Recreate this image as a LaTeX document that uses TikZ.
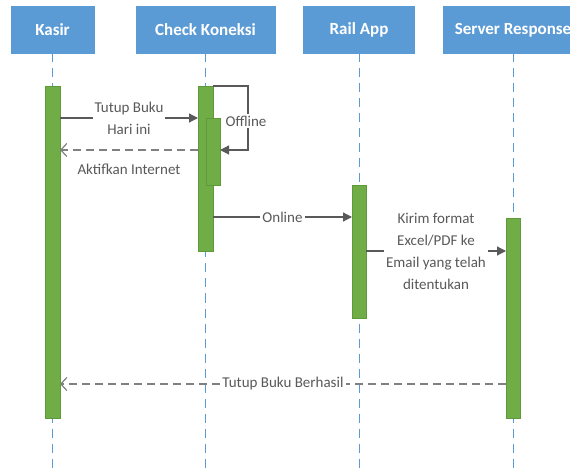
\documentclass[tikz,border=0pt]{standalone}
\usepackage{fontspec}
\setmainfont{Carlito}
\newcommand*{\headfont}{\fontsize{17}{20}\selectfont\bfseries}
\newcommand*{\msgfont}{\fontsize{15}{22}\selectfont}
\definecolor{head}{HTML}{5B9BD5}
\definecolor{act}{HTML}{70AD47}
\definecolor{actedge}{HTML}{5E9A3A}
\definecolor{darkgrey}{HTML}{595959}
\definecolor{midgrey}{HTML}{808080}
\usetikzlibrary{arrows.meta}
\usetikzlibrary{positioning}
\tikzstyle{base}=[x=1pt, y=-1pt, inner sep=0pt, outer sep=0pt]
\tikzstyle{actor}=[fill=head, draw=head, text=white, minimum height=47pt, font=\headfont]
\tikzstyle{lifeline}=[head, line width=1pt, dash pattern=on 9pt off 6pt]
\tikzstyle{bar}=[fill=act, draw=actedge, line width=0.5pt, minimum width=15pt]
\tikzstyle{call}=[darkgrey, line width=1.2pt, -{Triangle[length=9pt,width=9pt]}]
\tikzstyle{reply}=[midgrey, line width=1.2pt, dash pattern=on 8pt off 5pt, -{Straight Barb[length=6pt,width=13pt]}]
\tikzstyle{msg}=[fill=white, text=darkgrey, inner sep=2pt, align=center, font=\msgfont]

\begin{document}
\begin{tikzpicture}[base]
    \useasboundingbox (0,0) rectangle (570,470);
    \clip (0,0) rectangle (570,470);
        \node [actor, minimum width=83pt] (kasir) at (52.5,30) {Kasir};
        \node [actor, minimum width=139pt] (check) at (205.5,30) {Check Koneksi};
        \node [actor, minimum width=111pt] (rail) at (359,30) {Rail App};
        \node [actor, minimum width=140pt] (server) at (513,30) {Server Response};
        \foreach \n in {kasir,check,rail,server}
            \draw [lifeline] (\n.south) -- (\n.south |- 0,470);
        \node [bar, minimum height=332pt] (kasirbar) at (52.5,252) {};
        \node [bar, minimum height=165pt] (checkbar) at (205.5,168.5) {};
        \node [bar, minimum width=14pt, minimum height=67pt] (offbar) at (213,151.5) {};
        \node [bar, minimum width=14pt, minimum height=133pt] (railbar) at (359,251.5) {};
        \node [bar, minimum width=14pt, minimum height=200pt] (serverbar) at (513,318) {};
        \coordinate (tutup) at (0,118);
        \coordinate (aktif) at (0,150);
        \coordinate (online) at (0,217);
        \coordinate (kirim) at (0,251);
        \coordinate (berhasil) at (0,384);
        \draw [call] (kasirbar.east |- tutup) -- (checkbar.west |- tutup)
            node [msg, midway] {Tutup Buku\\Hari ini};
        \draw [call] (checkbar.north east) -- ++(35,0) |- (offbar.east |- aktif);
        \node [msg] (offline) at (246,121) {Offline};
        \draw [reply] (checkbar.west |- aktif) -- (kasirbar.east |- aktif)
            node [msg, midway, below=12pt] {Aktifkan Internet};
        \draw [call] (checkbar.east |- online) -- (railbar.west |- online)
            node [msg, midway] {Online};
        \draw [call] (railbar.east |- kirim) -- (serverbar.west |- kirim)
            node [msg, midway] {Kirim format\\Excel/PDF ke\\Email yang telah\\ditentukan};
        \draw [reply] (serverbar.west |- berhasil) -- (kasirbar.east |- berhasil)
            node [msg, midway] {Tutup Buku Berhasil};
\end{tikzpicture}
\end{document}
